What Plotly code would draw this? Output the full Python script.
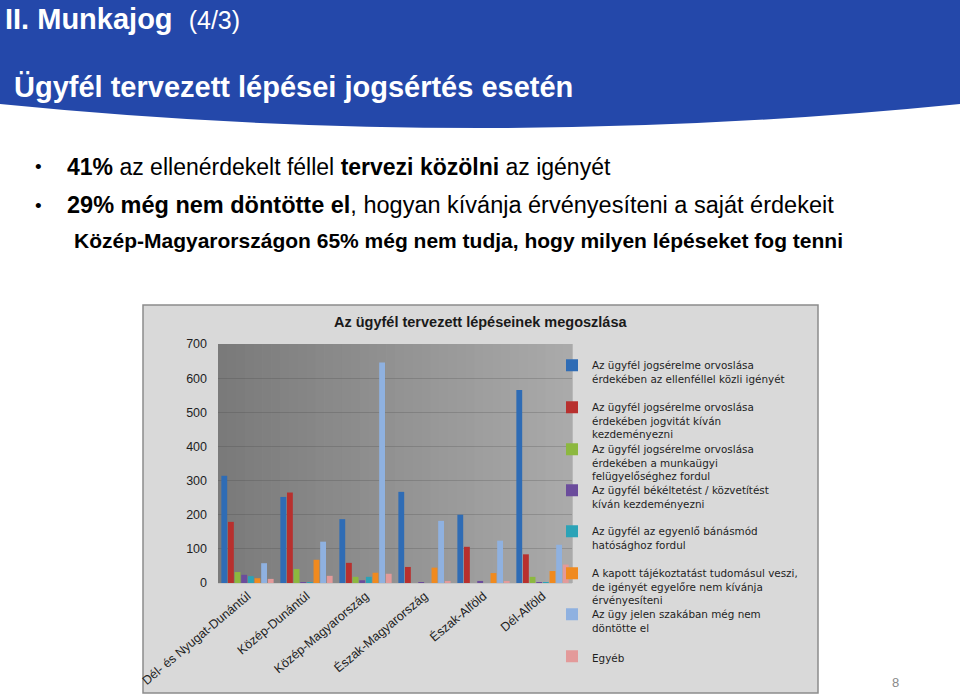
import plotly.graph_objects as go

# ---------------- data ----------------
regions = ["Dél- és Nyugat-Dunántúl", "Közép-Dunántúl", "Közép-Magyarország",
           "Észak-Magyarország", "Észak-Alföld", "Dél-Alföld"]

series_names = [
    "Az ügyfél jogsérelme orvoslása<br>érdekében az ellenféllel közli igényét",
    "Az ügyfél jogsérelme orvoslása<br>érdekében jogvitát kíván<br>kezdeményezni",
    "Az ügyfél jogsérelme orvoslása<br>érdekében a munkaügyi<br>felügyelőséghez fordul",
    "Az ügyfél békéltetést / közvetítést<br>kíván kezdeményezni",
    "Az ügyfél az egyenlő bánásmód<br>hatósághoz fordul",
    "A kapott tájékoztatást tudomásul veszi,<br>de igényét egyelőre nem kívánja<br>érvényesíteni",
    "Az ügy jelen szakában még nem<br>döntötte el",
    "Egyéb",
]

kozli_igenyet = [314, 252, 187, 267, 200, 565]
jogvita = [179, 265, 59, 47, 106, 84]
munkaugyi = [32, 41, 18, 0, 0, 18]
bekeltetes = [24, 1, 8, 2, 6, 2]
egyenlo = [20, 2, 18, 0, 0, 2]
tudomasul = [14, 68, 30, 45, 29, 35]
nem_dontotte = [58, 121, 646, 182, 124, 112]
egyeb = [12, 21, 27, 6, 6, 54]

series_values = [kozli_igenyet, jogvita, munkaugyi, bekeltetes, egyenlo,
                 tudomasul, nem_dontotte, egyeb]

y_ticks = [0, 100, 200, 300, 400, 500, 600, 700]

colors = ["#2f6cb5", "#b8302e", "#8cb83f", "#6b4c9c", "#2ba3b7",
          "#f08a1f", "#8fb1e0", "#e39a9a"]

# ---------------- geometry helpers (pixel -> paper) ----------------
W, H = 960, 696
PL, PR, PT, PB = 218, 572, 344, 583


def X(px):
    return (px - PL) / (PR - PL)


def Y(py):
    return (PB - py) / (PB - PT)


FONT = "Liberation Sans, Arial, sans-serif"
LEGFONT = "DejaVu Sans, Liberation Sans, sans-serif"

fig = go.Figure()

legend_tops = [352, 394, 436, 477, 518, 560, 601, 643]

for i, (name, vals, col) in enumerate(zip(series_names, series_values, colors)):
    lg = "legend" if i == 0 else f"legend{i + 1}"
    fig.add_trace(go.Bar(
        x=regions, y=vals, name=name, marker=dict(color=col, line=dict(width=0)),
        legend=lg,
    ))

shapes = []
# header band
shapes.append(dict(
    type="path", xref="paper", yref="paper",
    path=(f"M {X(0)},{Y(0)} L {X(960)},{Y(0)} L {X(960)},{Y(104)} "
          f"Q {X(480)},{Y(152)} {X(0)},{Y(104)} Z"),
    fillcolor="#2448aa", line=dict(width=0), layer="below",
))
# chart frame
shapes.append(dict(
    type="rect", xref="paper", yref="paper",
    x0=X(143), x1=X(818), y0=Y(693), y1=Y(305),
    fillcolor="#d9d9d9", line=dict(color="#8c8c8c", width=1.5), layer="below",
))
# plot-area gradient
N = 40
c0 = (0x7a, 0x7a, 0x7a)
c1 = (0xaa, 0xaa, 0xaa)
for k in range(N):
    t = k / (N - 1)
    c = tuple(int(round(a + (b - a) * t)) for a, b in zip(c0, c1))
    shapes.append(dict(
        type="rect", xref="paper", yref="paper",
        x0=k / N, x1=(k + 1) / N + 0.002, y0=0, y1=1,
        fillcolor="rgb(%d,%d,%d)" % c, line=dict(width=0), layer="below",
    ))

annotations = []


def txt(px, py, text, size, color="#000000", bold=False, xanchor="left", family=FONT):
    if bold:
        text = f"<b>{text}</b>"
    annotations.append(dict(
        x=X(px), y=Y(py), xref="paper", yref="paper", text=text, showarrow=False,
        xanchor=xanchor, yanchor="middle", font=dict(size=size, color=color, family=family),
    ))


txt(3, 19, "<b>II. Munkajog</b>  <span style='font-size:25px'>(4/3)</span>", 29, "#ffffff")
txt(12, 87, "Ügyfél tervezett lépései jogsértés esetén", 29, "#ffffff", bold=True)

txt(33, 167, "•", 19)
txt(33, 205, "•", 19)
txt(65, 167, "<b>41%</b> az ellenérdekelt féllel <b>tervezi közölni</b> az igényét", 23)
txt(65, 205, "<b>29% még nem döntötte el</b>, hogyan kívánja érvényesíteni a saját érdekeit", 23.5)
txt(72, 240, "Közép-Magyarországon 65% még nem tudja, hogy milyen lépéseket fog tenni", 21, bold=True)

txt(480, 322, "Az ügyfél tervezett lépéseinek megoszlása", 14.5, "#1a1a1a", bold=True, xanchor="center")
txt(895, 682, "8", 13, "#8a8a8a", xanchor="center")

layout_legends = {}
for i, top in enumerate(legend_tops):
    key = "legend" if i == 0 else f"legend{i + 1}"
    layout_legends[key] = dict(
        x=X(552), y=Y(top), xanchor="left", yanchor="top",
        bgcolor="rgba(0,0,0,0)", borderwidth=0, valign="top",
        font=dict(size=10.4, color="#1e1e1e", family=LEGFONT),
        itemclick=False, itemdoubleclick=False, itemwidth=30,
    )

fig.update_layout(
    width=W, height=H,
    margin=dict(l=PL, r=W - PR, t=PT, b=H - PB, autoexpand=False),
    paper_bgcolor="#ffffff",
    plot_bgcolor="rgba(0,0,0,0)",
    barmode="group", bargap=0.1, bargroupgap=0.12,
    showlegend=True,
    shapes=shapes,
    annotations=annotations,
    font=dict(family=FONT),
    xaxis=dict(
        tickangle=-40, tickfont=dict(size=12.5, color="#222222", family=FONT),
        showgrid=False, showline=True, linecolor="#c8c8c8", linewidth=1,
        ticks="", fixedrange=True,
    ),
    yaxis=dict(
        range=[0, 700], tickvals=y_ticks, ticktext=[str(v) for v in y_ticks],
        tickfont=dict(size=12.5, color="#1e1e1e", family=FONT),
        showgrid=True, gridcolor="rgba(60,60,60,0.22)", gridwidth=1,
        zeroline=False, showline=False, ticks="", ticklabelstandoff=10,
        fixedrange=True,
    ),
    **layout_legends,
)

fig.write_html("out.html")
